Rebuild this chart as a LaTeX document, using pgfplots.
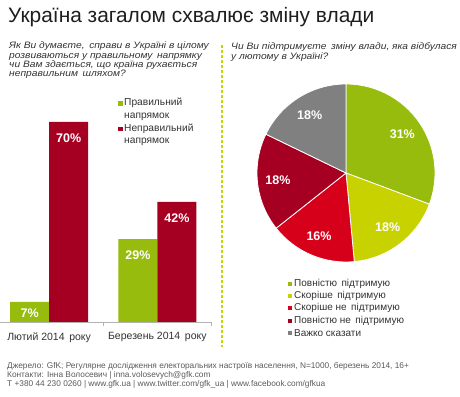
\documentclass[border=0pt]{standalone}
\usepackage{pgfplots}
\pgfplotsset{compat=1.18}
\usepackage{pgfplotstable}
\usepackage{fontspec}
\setmainfont{Liberation Sans}
\definecolor{gGreen}{RGB}{151,188,13}
\definecolor{gRed}{RGB}{165,0,33}
\definecolor{pieA}{RGB}{151,188,13}
\definecolor{pieB}{RGB}{200,210,0}
\definecolor{pieC}{RGB}{215,0,26}
\definecolor{pieD}{RGB}{165,0,33}
\definecolor{pieE}{RGB}{128,128,128}
\definecolor{dashC}{RGB}{200,212,0}
\definecolor{titleC}{RGB}{30,30,30}
\definecolor{textC}{RGB}{50,50,50}
\definecolor{footC}{RGB}{90,90,90}

\pgfplotstableread{
cat right wrong
0   7     70
1   29    42
}\bardata

\pgfplotstableread{
value col
31 pieA
18 pieB
16 pieC
18 pieD
18 pieE
}\piedata

\begin{document}
\begin{tikzpicture}
\path[use as bounding box] (0pt,0pt) rectangle (460pt,396pt);

% title
\node[anchor=base west, inner sep=0, text=titleC, font=\fontsize{20.9}{24}\selectfont] at (8pt,373pt) {Україна загалом схвалює зміну влади};

% left question
\node[anchor=north west, inner sep=0, align=left, text=textC, xscale=1.1, font=\fontsize{9.3}{9.2}\selectfont\itshape] at (9pt,354pt)
 {Як Ви думаєте,\, справи в Україні в цілому\\розвиваються у правильному\, напрямку\\чи Вам здається, що країна рухається\\неправильним\, шляхом?};

% right question
\node[anchor=north west, inner sep=0, align=left, text=textC, xscale=1.1, font=\fontsize{9.3}{10.5}\selectfont\itshape] at (231pt,354pt)
 {Чи Ви підтримуєте\, зміну влади, яка відбулася\\у лютому в Україні?};

% separator
\draw[dashC, line width=1.2pt, dash pattern=on 3pt off 2pt] (222pt,351pt) -- (222pt,49pt);

% bar chart
\begin{axis}[
  at={(0pt,74pt)}, anchor=south west,
  scale only axis, width=211.5pt, height=214.5pt,
  xmin=-0.4537, xmax=1.5, ymin=0, ymax=75,
  axis y line=none, axis x line*=bottom,
  x axis line style={draw=gray!60, -},
  xtick={0,1}, xticklabels={Лютий 2014\, року, Березень 2014\, року},
  major tick length=0pt,
  extra x ticks={0.5,1.5}, extra x tick labels={},
  extra x tick style={major tick length=3.5pt, tick align=outside, major tick style={draw=gray!60, line width=0.6pt}},
  xticklabel style={font=\fontsize{10.5}{12}\selectfont, text=textC, yshift=-7pt},
  ybar=0pt, bar width=39pt,
  visualization depends on={rawy \as \rawy},
  nodes near coords={\pgfmathprintnumber[assume math mode=true]{\pgfplotspointmeta}\%},
  every node near coord/.append style={font=\fontsize{12.5}{14}\selectfont\bfseries, text=white, anchor=center, yshift={\rawy<15 ? -11 : -16}},
]
\addplot[fill=gGreen, draw=none] table[x=cat, y=right]{\bardata};
\addplot[fill=gRed, draw=none] table[x=cat, y=wrong]{\bardata};
\end{axis}

% bar legend
\fill[gGreen] (118pt,290pt) rectangle ++(4.5pt,4.5pt);
\node[anchor=north west, inner sep=0, align=left, text=textC, font=\fontsize{10.2}{12.5}\selectfont] at (124pt,298pt) {Правильний\\напрямок};
\fill[gRed] (118pt,264.5pt) rectangle ++(4.5pt,4.5pt);
\node[anchor=north west, inner sep=0, align=left, text=textC, font=\fontsize{10.2}{12.5}\selectfont] at (124pt,272.5pt) {Неправильний\\напрямок};

% pie chart
\begin{axis}[
  at={(346pt,223pt)}, anchor=center,
  scale only axis, width=178pt, height=178pt,
  xmin=-1, xmax=1, ymin=-1, ymax=1,
  hide axis, clip=false,
]
\pgfplotsextra{
  \pgfplotstablegetrowsof{\piedata}
  \pgfmathtruncatemacro{\nlast}{\pgfplotsretval-1}
  \gdef\pietot{0}
  \foreach \i in {0,...,\nlast}{
    \pgfplotstablegetelem{\i}{value}\of\piedata
    \pgfmathsetmacro{\tmp}{\pietot+\pgfplotsretval}
    \global\let\pietot\tmp
  }
  \gdef\piecum{0}
  \foreach \i in {0,...,\nlast}{
    \pgfplotstablegetelem{\i}{value}\of\piedata \let\sv\pgfplotsretval
    \pgfplotstablegetelem{\i}{col}\of\piedata \let\scol\pgfplotsretval
    \pgfmathsetmacro{\sa}{90-360*(\piecum/\pietot)}
    \pgfmathsetmacro{\sb}{90-360*((\piecum+\sv)/\pietot)}
    \pgfmathsetmacro{\sm}{(\sa+\sb)/2}
    \fill[\scol, draw=white, line width=0.8pt] (axis cs:0,0) -- (axis cs:{cos(\sa)},{sin(\sa)}) arc[start angle=\sa, end angle=\sb, radius=89pt] -- cycle;
    \node[text=white, font=\fontsize{12.5}{14}\selectfont\bfseries] at (axis cs:{0.77*cos(\sm)},{0.77*sin(\sm)}) {\sv\%};
    \pgfmathsetmacro{\tmp}{\piecum+\sv}
    \global\let\piecum\tmp
  }
}
\end{axis}

% pie legend
\foreach \yy/\cc/\tt in {112/pieA/{Повністю\, підтримую}, 100/pieB/{Скоріше\, підтримую}, 88/pieC/{Скоріше не\, підтримую}, 75/pieD/{Повністю не\, підтримую}, 63/pieE/{Важко сказати}}{
  \fill[\cc] (287.5pt,{(\yy-2.2)*1pt}) rectangle ++(4.5pt,4.5pt);
  \node[anchor=west, inner sep=0, text=textC, font=\fontsize{10}{12}\selectfont] at (294pt,\yy pt) {\tt};
}

% footer
\node[anchor=north west, inner sep=0, align=left, text=footC, font=\fontsize{8.3}{9.3}\selectfont] at (7pt,34pt)
 {Джерело: GfK; Регулярне дослідження електоральних настроїв населення, N=1000, березень 2014, 16+\\
  Контакти: Інна Волосевич | inna.volosevych@gfk.com\\
  T +380 44 230 0260 | www.gfk.ua | www.twitter.com/gfk\_ua | www.facebook.com/gfkua};
\end{tikzpicture}
\end{document}
